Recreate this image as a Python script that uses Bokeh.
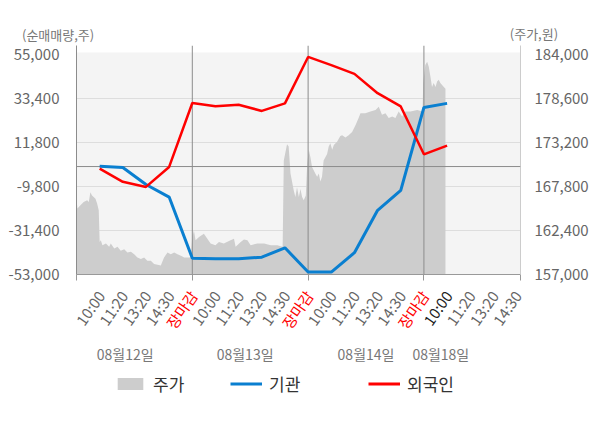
import numpy as np
from bokeh.plotting import figure
from bokeh.layouts import column, row
from bokeh.models import (Range1d, LinearAxis, FixedTicker, Span, BoxAnnotation,
                          Legend, LegendItem)
from bokeh.core.properties import value
from bokeh.embed import file_html
from bokeh.resources import INLINE

FONT = "Noto Sans CJK KR"

# ---------------- data ----------------
time_labels = ["10:00", "11:20", "13:20", "14:30", "장마감",
               "10:00", "11:20", "13:20", "14:30", "장마감",
               "10:00", "11:20", "13:20", "14:30", "장마감",
               "10:00", "11:20", "13:20", "14:30"]
day_labels = ["08월12일", "08월13일", "08월14일", "08월18일"]

# net buying (shares) at each labelled time slot
inst = [200, -500, -8800, -15000, -45000, -45300, -45300, -44500, -39900,
        -51800, -51800, -42300, -21500, -11700, 29000, 31000]
foreign = [-1000, -7500, -10000, -200, 31200, 29600, 30300, 27300, 31000,
           53800, 49800, 45500, 36000, 29500, 6000, 10300]

# intraday price (원), position measured in time slots
price_slot = [0.00, 0.04, 0.17, 0.31, 0.46, 0.53, 0.60, 0.67, 0.74, 0.82, 0.89, 0.96,
              1.00, 1.05, 1.12, 1.27, 1.41, 1.48, 1.63, 1.77, 1.91, 2.06, 2.20, 2.35,
              2.49, 2.63, 2.78, 2.92, 3.06, 3.21, 3.35, 3.50, 3.64, 3.78, 3.93, 4.07,
              4.22, 4.36, 4.51, 4.65, 4.79, 4.93,
              5.00, 5.07, 5.14, 5.29, 5.50, 5.65, 5.79, 6.00, 6.15, 6.36, 6.65, 6.80,
              6.87, 7.09, 7.23, 7.38, 7.52, 7.81, 8.10, 8.39, 8.67, 8.90, 8.95, 9.09,
              9.16, 9.24, 9.38, 9.45, 9.52, 9.60, 9.67, 9.74, 9.81, 9.90,
              9.96, 10.03, 10.10, 10.17, 10.31, 10.39, 10.46, 10.53, 10.60, 10.67,
              10.82, 10.89, 10.96, 11.04, 11.11, 11.25, 11.39, 11.47, 11.61, 11.75,
              11.90, 12.04, 12.18, 12.26, 12.47, 12.69, 12.91, 13.05, 13.19, 13.34,
              13.48, 13.63, 13.77, 13.91, 14.06, 14.20, 14.42, 14.71, 14.94,
              14.97, 15.06, 15.14, 15.21, 15.28, 15.35, 15.42, 15.50, 15.57, 15.64,
              15.71, 15.86, 15.93]
price = [166300, 165100, 165500, 165900, 166100, 165900, 167100, 166700, 166500, 166300, 165700, 164900,
         161000, 161200, 160600, 160800, 160400, 160800, 160200, 160400, 159900, 160100, 159700, 159800,
         159500, 159100, 158900, 159100, 158700, 158700, 158300, 158200, 158100, 159100, 159700, 159500,
         159700, 159500, 159300, 159100, 159100, 159100,
         161600, 162400, 161200, 161600, 162000, 161400, 160800, 160600, 161000, 160800, 161200, 161400,
         160400, 161000, 161300, 161200, 160600, 160800, 160800, 160600, 160600, 160400, 171000, 173000,
         172700, 169400, 167300, 166500, 167700, 166500, 167500, 166500, 166100, 166700,
         170600, 172300, 171400, 170200, 169400, 169000, 169400, 168400, 169000, 171000,
         171800, 172700, 173100, 172300, 172900, 173300, 174000, 174100, 173800, 174100,
         174500, 175300, 176200, 176800, 176800, 177000, 177200, 177600, 176600, 176800,
         176200, 176400, 176200, 177000, 176400, 177000, 177000, 177200, 177000,
         180500, 182700, 183100, 182500, 181300, 180000, 180500, 180000, 180700, 180900,
         180500, 180000, 179800]

left_ticks = [-53000, -31400, -9800, 11800, 33400, 55000]
right_ticks = [157000, 162400, 167800, 173200, 178600, 184000]
day_bounds = [0, 5, 10, 15]

# ---------------- layout constants (pixels) ----------------
W = 592
TOTAL_H = 420
TOP_H = 43            # strip with axis titles
FR_L, FR_R = 76, 72   # main frame side borders
FR_TOP, FR_H, MAIN_BOT = 2, 229, 11
MAIN_H = FR_TOP + FR_H + MAIN_BOT
BOT_H = TOTAL_H - TOP_H - MAIN_H
BOT_Y0 = TOP_H + MAIN_H          # page y where the bottom strip starts
n_slots = 19.17
pps = (W - FR_L - FR_R) / n_slots

def blank(h, xr, yr):
    f = figure(width=W, height=h, output_backend="svg", toolbar_location=None,
               x_axis_type=None, y_axis_type=None, x_range=xr, y_range=yr,
               min_border=0, title=None)
    f.outline_line_color = None
    f.background_fill_color = "white"
    f.border_fill_color = "white"
    return f

# ---------------- top strip: axis titles ----------------
top = blank(TOP_H, Range1d(0, W), Range1d(0, TOP_H))
top.text(x=[21.5], y=[TOP_H - 33.5], text=["(순매매량,주)"], text_font=value(FONT),
         text_font_size="13px", text_color="#777777", text_baseline="middle")
top.text(x=[509.3], y=[TOP_H - 33.3], text=["(주가,원)"], text_font=value(FONT),
         text_font_size="13px", text_color="#777777", text_baseline="middle")

# ---------------- main chart ----------------
p = figure(width=W, height=MAIN_H, output_backend="svg", toolbar_location=None, title=None,
           x_range=Range1d(0, n_slots), y_range=Range1d(-53000, 59418),
           min_border_left=FR_L, min_border_right=FR_R, min_border_top=FR_TOP,
           min_border_bottom=MAIN_BOT)
p.extra_y_ranges = {"price": Range1d(157000, 185105)}
p.outline_line_color = None
p.background_fill_color = "white"
p.border_fill_color = "white"

p.add_layout(BoxAnnotation(top=56000, bottom=-53000, fill_color="#f4f4f4", fill_alpha=1,
                           line_color=None, level="image"))

xt = day_bounds + [n_slots]
p.xaxis.ticker = FixedTicker(ticks=xt)
p.xaxis.major_label_overrides = {t: "" for t in xt}
p.xaxis.major_label_standoff = 0
p.xaxis.major_label_text_font_size = "1px"
p.xaxis.major_tick_out = 6
p.xaxis.major_tick_in = 0
p.xaxis.major_tick_line_color = "#999999"
p.xaxis.axis_line_color = "#999999"
p.xaxis.minor_tick_line_color = None

p.yaxis.ticker = FixedTicker(ticks=left_ticks)
p.yaxis.major_label_overrides = {t: f"{t:,}" for t in left_ticks}
p.yaxis.major_tick_line_color = None
p.yaxis.minor_tick_line_color = None
p.yaxis.axis_line_color = "#8c8c8c"
p.yaxis.major_label_standoff = 11
p.yaxis.major_label_text_font = FONT
p.yaxis.major_label_text_font_size = "15px"
p.yaxis.major_label_text_color = "#666666"

ax_r = LinearAxis(y_range_name="price", ticker=FixedTicker(ticks=right_ticks))
ax_r.major_label_overrides = {t: f"{t:,}" for t in right_ticks}
ax_r.major_tick_line_color = None
ax_r.minor_tick_line_color = None
ax_r.axis_line_color = "#cccccc"
ax_r.major_label_standoff = 8
ax_r.major_label_text_font = FONT
ax_r.major_label_text_font_size = "15px"
ax_r.major_label_text_color = "#666666"
p.add_layout(ax_r, "right")

p.xgrid.visible = False
p.ygrid.ticker = FixedTicker(ticks=left_ticks[1:-1])
p.ygrid.grid_line_color = "#dddddd"

AREA_C, INST_C, FOR_C = "#cdcdcd", "#0a7fd0", "#ff0000"
p.varea(x=price_slot, y1=157000, y2=price, y_range_name="price", fill_color=AREA_C)

for b in day_bounds[1:]:
    p.add_layout(Span(location=b, dimension="height", line_color="#8c8c8c", line_width=1))
p.add_layout(Span(location=0, dimension="width", line_color="#8c8c8c", line_width=1))

slots = np.arange(1, len(inst) + 1)
p.line(slots, inst, line_color=INST_C, line_width=3, level="overlay")
p.line(slots, foreign, line_color=FOR_C, line_width=2.5, level="overlay")

# ---------------- bottom strip: time labels, dates, legend ----------------
bot = blank(BOT_H, Range1d(-FR_L / pps, (W - FR_L) / pps), Range1d(0, BOT_H))

tick_colors = []
for i, t in enumerate(time_labels):
    if t == "장마감":
        tick_colors.append("#ff0000")
    elif i == 15:
        tick_colors.append("#222222")
    else:
        tick_colors.append("#666666")
bot.text(x=np.arange(1, len(time_labels) + 1),
         y=[BOT_H - (292 - BOT_Y0)] * len(time_labels),
         text=time_labels, text_color=tick_colors, angle=55, angle_units="deg",
         text_align="right", text_baseline="middle", x_offset=1,
         text_font=value(FONT), text_font_size="15px")

day_pos = [2.1, 7.28, 12.5, 15.73]
bot.text(x=day_pos, y=[BOT_H - (353.3 - BOT_Y0)] * 4, text=day_labels, text_color="#777777",
         text_align="center", text_baseline="middle", text_font=value(FONT),
         text_font_size="14px")

# legend proxies (single point: nothing drawn in the strip itself)
r_a = bot.varea(x=[price_slot[0]], y1=[0], y2=[0], fill_color=AREA_C)
r_i = bot.line(x=[1], y=[0], line_color=INST_C, line_width=3)
r_f = bot.line(x=[1], y=[0], line_color=FOR_C, line_width=3)
leg_mid = BOT_H - (385.8 - BOT_Y0)
for name, rend, px in [("주가", r_a, 114), ("기관", r_i, 230), ("외국인", r_f, 368)]:
    lg = Legend(items=[LegendItem(label=name, renderers=[rend])],
                location=(px, leg_mid - 10),
                orientation="horizontal", glyph_width=32, glyph_height=15,
                label_height=20, label_text_font=FONT, label_text_font_size="17px",
                label_text_color="#333333", label_standoff=7, padding=0, margin=0,
                spacing=0, border_line_color=None, background_fill_alpha=0)
    bot.add_layout(lg)

layout = column(row(top), row(p), row(bot))
open("out.html", "w").write(file_html(layout, INLINE))
